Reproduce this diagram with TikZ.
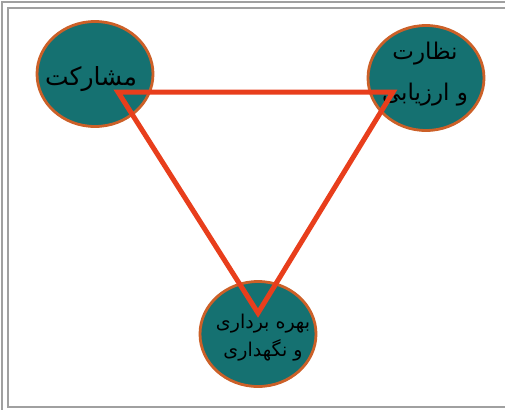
\documentclass[tikz,border=0pt]{standalone}
\usepackage{fontspec}
\TeXXeTstate=1
\newfontfamily\arabicfont[Script=Arabic]{DejaVu Sans}
\definecolor{tealfill}{RGB}{21,113,113}
\definecolor{rimcol}{RGB}{204,96,40}
\definecolor{barcol}{RGB}{232,62,28}
\definecolor{framecol}{RGB}{160,160,160}
\usetikzlibrary{shapes.geometric}

\begin{document}
\begin{tikzpicture}[x=1pt,y=-1pt]
\tikzstyle{every node}+=[inner sep=0pt]
\tikzstyle{disc}=[ellipse,draw=rimcol,line width=2.8pt,fill=tealfill,minimum width=116pt,minimum height=105pt]
\tikzstyle{word}=[text=black,align=center,font=\arabicfont]
\tikzstyle{bar}=[draw=barcol,line width=5pt,line join=miter]
\tikzstyle{rule}=[draw=framecol,line width=2pt]
\useasboundingbox (0,0) rectangle (505,410);
% frame
\draw [rule] (505,2) -- (2,2) -- (2,410);
\draw [rule] (505,8) -- (8,8) -- (8,407) -- (505,407);
% circles
\node [disc] (mosh) at (95,74) {};
\node [disc] (nez) at (426,78) {};
\node [disc] (bah) at (258,334) {};
% labels
\node [word,font=\arabicfont\fontsize{25}{40}\selectfont] (moshtxt) at (91,79) {\beginR مشارکت\endR};
\node [word,font=\arabicfont\fontsize{23}{41}\selectfont] (neztxt) at (425,74) {\beginR نظارت\endR\\\beginR و ارزیابی\endR};
\node [word,font=\arabicfont\fontsize{19}{28}\selectfont] (bahtxt) at (263,338) {\beginR بهره برداری\endR\\\beginR و نگهداری\endR};
% triangle
\coordinate (ta) at (118,92);
\coordinate (tb) at (393,92);
\coordinate (tc) at (258,313);
\draw [bar] (ta) -- (tb) -- (tc) -- cycle;
\end{tikzpicture}
\end{document}
